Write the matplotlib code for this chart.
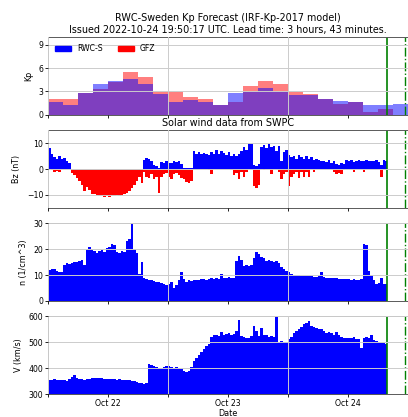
import numpy as np
import pandas as pd
import matplotlib
matplotlib.use('Agg')
import matplotlib.pyplot as plt
import matplotlib.dates as mdates
from matplotlib.patches import Patch

issued = pd.Timestamp('2022-10-24 19:50:17')
lead = pd.Timedelta(hours=3, minutes=43)

# Kp, 3-hour bins from 2022-10-22 00:00
kp_rwc = [1.7, 1.3, 2.8, 3.9, 4.4, 4.6, 4.0, 2.7, 1.7, 1.9, 1.7, 1.3,
          2.8, 2.9, 3.5, 2.9, 2.5, 2.6, 2.0, 1.8, 1.7, 1.3, 1.3, 1.4]
kp_gfz = [2.0, 2.0, 2.8, 3.3, 4.2, 5.5, 4.9, 2.9, 2.9, 2.3, 2.0, 1.3,
          1.7, 3.7, 4.3, 4.0, 2.9, 2.7, 2.0, 1.4, 1.7, 0.3, 0.7]

# solar wind, 30-minute bins from 2022-10-22 00:00 up to issue time
bz_hi = [8.3, 6.0, 4.5, 4.0, 5.0, 4.0, 4.2, 3.0, 2.3, 0.0, 0.0, 0.0,
         0, 0, 0, 0, 0, 0, 0, 0, 0, 0, 0, 0,
         0, 0, 0, 0, 0, 0, 0, 0, 0, 0, 0, 0,
         0, 0, 3.5, 4.2, 4.0, 3.0, 1.5, 1.0, 0.5, 2.8, 2.5, 3.0,
         2.2, 2.5, 3.0, 2.8, 3.2, 2.0, 0.5, 0.3, 0.3, 0.5, 6.8, 6.0,
         6.5, 5.8, 6.2, 6.0, 5.5, 6.5, 6.0, 7.4, 6.0, 7.0, 6.2, 5.5,
         6.5, 5.0, 5.8, 5.0, 6.0, 7.0, 8.5, 7.5, 10.0, 9.5, 1.5, 1.0,
         2.0, 8.5, 9.4, 8.0, 9.5, 8.5, 9.0, 7.0, 8.8, 3.0, 6.5, 7.5,
         5.5, 4.5, 5.0, 4.0, 5.5, 4.5, 4.0, 5.0, 3.8, 4.5, 3.5, 4.0,
         3.5, 3.0, 3.2, 2.8, 3.5, 2.5, 3.0, 2.0, 1.5, 2.5, 2.0, 3.5,
         3.0, 3.5, 2.8, 3.2, 3.5, 3.0, 3.2, 3.5, 3.0, 3.2, 3.0, 3.3,
         2.8, 1.5, 3.3, 3.0]
bz_lo = [0, -0.5, -1.0, -0.8, -1.0, 0, 0, 0, 0, -1.5, -2.5, -3.5,
         -4.5, -6.0, -8.6, -7.0, -8.0, -9.5, -9.8, -10.2, -10.5, -10.5, -10.8, -10.5,
         -10.9, -10.4, -10.5, -10.2, -10.3, -10.0, -9.8, -9.2, -8.5, -7.5, -6.0, -4.5,
         -3.0, -5.4, -1.0, -3.0, -3.5, -2.0, -4.0, -3.0, -9.2, -3.0, -2.0, -1.5,
         -3.0, -4.0, -2.0, -1.5, -2.5, -3.5, -4.0, -5.0, -5.5, -4.5, 0, 0,
         0, 0, 0, 0, -0.5, -2.0, 0, 0, 0, 0, 0, 0,
         0, -0.5, -2.5, -1.5, -4.0, -1.0, -3.0, -1.0, 0, 0, -6.5, -7.5,
         -6.0, 0, -0.5, 0, 0, -2.0, 0, 0, -1.0, -4.0, -2.0, -1.0,
         -6.7, -3.0, -2.0, -1.0, -3.5, -1.0, -3.0, -1.0, -3.2, 0, -1.0, 0,
         0, 0, 0, 0, 0, 0, -1.0, -2.0, -1.5, -2.0, -0.5, 0,
         0, 0, -1.0, 0, 0, 0, -1.0, 0, 0, 0, 0, 0,
         0, -3.0, 0, 0]
dens = [12.0, 12.5, 12.2, 11.5, 11.2, 11.0, 14.0, 14.5, 14.2, 14.8, 15.2, 15.0,
        15.5, 15.8, 13.8, 20.0, 21.0, 20.2, 19.5, 18.5, 19.2, 19.8, 19.0, 20.5,
        21.0, 22.0, 21.5, 19.0, 18.5, 19.5, 19.0, 23.0, 24.0, 30.0, 20.0, 18.5,
        10.6, 15.0, 8.7, 8.5, 8.2, 8.0, 7.8, 7.5, 7.2, 6.8, 6.5, 6.2,
        6.5, 7.4, 5.0, 6.0, 8.0, 11.0, 8.5, 7.5, 8.0, 7.8, 8.0, 8.2,
        8.0, 8.5, 8.3, 8.2, 8.5, 8.7, 8.5, 8.8, 8.6, 10.6, 9.0, 8.8,
        9.2, 9.0, 8.7, 15.5, 17.5, 16.0, 13.5, 13.8, 13.5, 14.0, 16.5, 18.8,
        18.0, 17.0, 16.5, 15.5, 16.0, 15.5, 15.0, 15.3, 14.5, 13.0, 12.5, 11.5,
        11.2, 10.5, 10.2, 10.0, 10.0, 9.8, 9.7, 9.8, 9.5, 9.6, 9.4, 9.3,
        9.5, 11.2, 9.3, 9.0, 9.0, 8.8, 8.7, 8.8, 8.5, 8.6, 8.5, 8.3,
        8.4, 8.2, 8.3, 8.2, 8.0, 8.5, 22.0, 21.5, 11.5, 10.0, 8.0, 6.5,
        7.0, 8.7, 6.5, 6.5]
speed = [356, 355, 357, 354, 356, 353, 355, 350, 360, 366, 372, 362,
         358, 357, 356, 358, 360, 362, 364, 362, 361, 363, 360, 359,
         358, 357, 358, 356, 357, 355, 356, 354, 353, 352, 350, 345,
         343, 342, 340, 343, 418, 414, 410, 403, 400, 401, 405, 410,
         408, 403, 402, 404, 400, 398, 390, 386, 388, 405, 428, 440,
         450, 462, 475, 485, 495, 520, 527, 530, 525, 540, 528, 532,
         535, 528, 532, 545, 585, 525, 520, 515, 518, 525, 565, 545,
         525, 555, 530, 528, 522, 525, 520, 598, 500, 505, 502, 500,
         512, 520, 535, 545, 550, 560, 570, 575, 582, 565, 560, 555,
         550, 552, 545, 538, 540, 535, 530, 540, 528, 520, 518, 515,
         518, 515, 520, 514, 512, 480, 518, 522, 515, 530, 510, 505,
         500, 498, 496, 494]

kp_edges = pd.date_range('2022-10-22', periods=len(kp_rwc) + 1, freq='3h').to_pydatetime()
sw_edges = list(pd.date_range('2022-10-22', periods=len(dens), freq='30min').to_pydatetime())
sw_edges.append(issued.to_pydatetime())


def step_fill(ax, x, vals, base, color, **kw):
    y = np.append(vals, vals[-1])
    ax.fill_between(x, base, y, step='post', color=color, lw=0, **kw)


fig, axs = plt.subplots(4, 1, sharex=True, figsize=(4.08, 4.17), dpi=100)
fig.subplots_adjust(left=0.118, right=0.999, top=0.911, bottom=0.055, hspace=0.2)

ax = axs[0]
step_fill(ax, kp_edges[:len(kp_gfz) + 1], kp_gfz, 0, 'red', alpha=0.5)
step_fill(ax, kp_edges, kp_rwc, 0, 'blue', alpha=0.5)
ax.set_ylim(0, 10)
ax.set_yticks([0, 3, 6, 9])
ax.set_ylabel('Kp')
ax.set_title('RWC-Sweden Kp Forecast (IRF-Kp-2017 model)\nIssued '
             + issued.strftime('%Y-%m-%d %H:%M:%S')
             + ' UTC. Lead time: 3 hours, 43 minutes.', fontsize=6.9, pad=3)
ax.legend(handles=[Patch(color='blue', label='RWC-S'), Patch(color='red', label='GFZ')],
          loc='upper left', ncol=2, frameon=False, fontsize=5.6)

ax = axs[1]
step_fill(ax, sw_edges, bz_hi, 0, 'blue')
step_fill(ax, sw_edges, bz_lo, 0, 'red')
ax.set_ylim(-15, 15)
ax.set_yticks([-10, 0, 10])
ax.set_ylabel('Bz (nT)')
ax.set_title('Solar wind data from SWPC', fontsize=6.9, pad=3)

ax = axs[2]
step_fill(ax, sw_edges, dens, 0, 'blue')
ax.set_ylim(0, 30)
ax.set_yticks([0, 10, 20, 30])
ax.set_ylabel('n (1/cm^3)')

ax = axs[3]
step_fill(ax, sw_edges, speed, 0, 'blue')
ax.set_ylim(300, 600)
ax.set_yticks([300, 400, 500, 600])
ax.set_ylabel('V (km/s)')
ax.set_xlabel('Date', fontsize=5.8, labelpad=1)

for ax in axs:
    ax.axvline(issued, color='green', lw=1.2)
    ax.axvline(issued + lead, color='green', lw=1.0, ls='-.')
    ax.grid(True, which='major', color='0.8', lw=0.7)
    ax.set_axisbelow(False)
    ax.yaxis.label.set_size(5.8)
    ax.tick_params(which='both', labelsize=5.6, length=2, width=0.6, pad=1.5)
    for s in ax.spines.values():
        s.set_linewidth(0.7)
        s.set_color('0.35')

axs[-1].set_xlim(pd.Timestamp('2022-10-22').to_pydatetime(), pd.Timestamp('2022-10-25').to_pydatetime())
axs[-1].xaxis.set_major_locator(mdates.DayLocator())
axs[-1].xaxis.set_major_formatter(plt.NullFormatter())
axs[-1].xaxis.set_minor_locator(mdates.HourLocator(byhour=12))
axs[-1].xaxis.set_minor_formatter(mdates.DateFormatter('%b %d'))

plt.savefig('out.png', dpi=100)
